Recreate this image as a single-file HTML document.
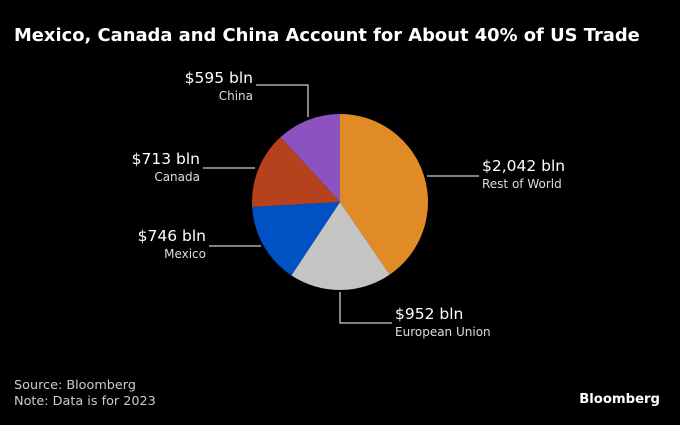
<!DOCTYPE html>
<html><head><meta charset="utf-8"><style>
body{margin:0;background:#000;width:680px;height:421px;overflow:hidden;font-family:"DejaVu Sans","Liberation Sans",sans-serif;color:#fff}
svg text{font-family:"DejaVu Sans","Liberation Sans",sans-serif}
</style></head><body>
<svg width="680" height="421" xmlns="http://www.w3.org/2000/svg">
<text x="14" y="41" font-size="17.9" font-weight="bold" fill="#fff">Mexico, Canada and China Account for About 40% of US Trade</text>
<g id="pie"></g>
<g id="labels"></g>
<text x="14" y="389" font-size="12.8" fill="#ccc">Source: Bloomberg</text>
<text x="14" y="405" font-size="12.8" fill="#ccc">Note: Data is for 2023</text>
<text x="660" y="403" font-size="13.2" font-weight="bold" fill="#fff" text-anchor="end">Bloomberg</text>
</svg>
<script>
const categories=["Rest of World","European Union","Mexico","Canada","China"];
const values=[2042,952,746,713,595];
const valueLabels=["$2,042 bln","$952 bln","$746 bln","$713 bln","$595 bln"];
const colors=["#e08b25","#c4c4c4","#0051c4","#b5421c","#8c52bf"];
const cx=340,cy=202,r=88,NS="http://www.w3.org/2000/svg";
const total=values.reduce((a,b)=>a+b,0);
const pie=document.getElementById('pie');
let a=0;
function pt(ang,rad){return [cx+rad*Math.sin(ang),cy-rad*Math.cos(ang)];}
values.forEach((v,i)=>{
  const a0=a,a1=a+v/total*2*Math.PI;a=a1;
  const p0=pt(a0,r),p1=pt(a1,r),large=(a1-a0)>Math.PI?1:0;
  const p=document.createElementNS(NS,'path');
  p.setAttribute('d',`M${cx},${cy}L${p0[0]},${p0[1]}A${r},${r} 0 ${large} 1 ${p1[0]},${p1[1]}Z`);
  p.setAttribute('fill',colors[i]);
  
  
  pie.appendChild(p);
});
const lay=[
 {line:"M427,176H479",x:482,y:171,anchor:"start"},
 {line:"M340,292V323H392",x:395,y:319,anchor:"start"},
 {line:"M261,246H209",x:206,y:241,anchor:"end"},
 {line:"M255,168H203",x:200,y:164,anchor:"end"},
 {line:"M308,117V85H256",x:253,y:83,anchor:"end"}
];
const lg=document.getElementById('labels');
lay.forEach((l,i)=>{
  const ln=document.createElementNS(NS,'path');
  ln.setAttribute('d',l.line);ln.setAttribute('stroke','#ccc');ln.setAttribute('fill','none');ln.setAttribute('stroke-width','1.3');
  
  
  lg.appendChild(ln);
  const t=document.createElementNS(NS,'text');
  t.setAttribute('x',l.x);t.setAttribute('y',l.y);t.setAttribute('font-size','15.5');t.setAttribute('fill','#fff');t.setAttribute('text-anchor',l.anchor);
  t.textContent=valueLabels[i];
  
  
  lg.appendChild(t);
  const c=document.createElementNS(NS,'text');
  c.setAttribute('x',l.x);c.setAttribute('y',l.y+17);c.setAttribute('font-size','12');c.setAttribute('fill','#ddd');c.setAttribute('text-anchor',l.anchor);
  c.textContent=categories[i];
  
  
  lg.appendChild(c);
});
</script>
</body></html>
